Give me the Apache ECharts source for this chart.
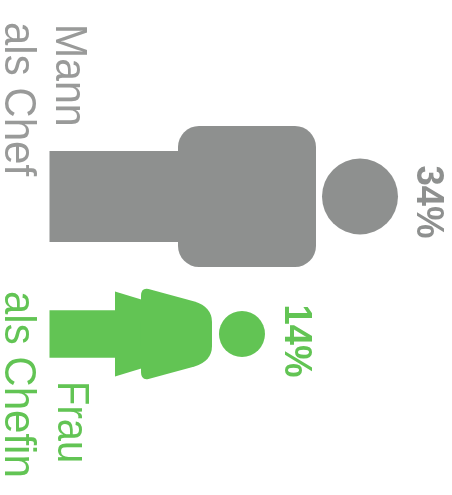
<!DOCTYPE html>
<html><head><meta charset="utf-8">
<style>html,body{margin:0;padding:0;background:#fff}#c{width:452px;height:495px}</style>
<script src="https://cdn.jsdelivr.net/npm/echarts@6/dist/echarts.min.js"></script></head>
<body><div id="c"></div>
<script>
const categories = ['Mann als Chef', 'Frau als Chefin'];
const shares = [34, 14];
const labelLineA = ['Mann', 'Frau'];
const labelLineB = ['als Chef', 'als Chefin'];

const GREY = '#8e908f', GREEN = '#62c454';
const FONT = '"Liberation Sans", Arial, sans-serif';
const colors = [GREY, GREEN];
const textColors = ['#999a99', GREEN];
const labelPos = [
  { a: [68.5, 24], b: [17, 22] },
  { a: [70, 381], b: [17, 291] }
];

function rotText(text, x, y, color, size, weight, sy) {
  return { type: 'text', x, y, rotation: -Math.PI / 2, scaleY: sy,
    style: { text, x: 0, y: 0, fill: color, font: weight + ' ' + size + 'px ' + FONT,
      textAlign: 'left', textVerticalAlign: 'middle' } };
}
function manIcon(base, tip, cy, c) {
  const k = (tip - base) / 348.5, X = v => base + v * k, S = v => v * k;
  return [
    { type: 'rect', shape: { x: base, y: cy - S(45.5), width: S(130), height: S(91) }, style: { fill: c } },
    { type: 'rect', shape: { x: X(128.5), y: cy - S(70.5), width: S(138), height: S(141), r: S(21) }, style: { fill: c } },
    { type: 'circle', shape: { cx: X(310.5), cy: cy, r: S(38) }, style: { fill: c } }
  ];
}
function womanIcon(base, tip, cy, c) {
  const k = (tip - base) / 215.5, X = v => (base + v * k).toFixed(2), Y = v => (cy + v * k).toFixed(2);
  const p = (x, y) => X(x) + ' ' + Y(y);
  const body = 'M' + p(91.5, -38) + ' Q' + p(91.5, -46.5) + ' ' + p(99, -45) +
    ' L' + p(145, -32.5) + ' Q' + p(162.5, -27) + ' ' + p(162.5, -12) +
    ' L' + p(162.5, 12) + ' Q' + p(162.5, 27) + ' ' + p(145, 32.5) +
    ' L' + p(99, 45) + ' Q' + p(91.5, 46.5) + ' ' + p(91.5, 38) + ' Z';
  const rear = 'M' + p(65.5, -42.5) + ' L' + p(100, -32) + ' L' + p(100, 32) + ' L' + p(65.5, 42.5) + ' Z';
  return [
    { type: 'rect', shape: { x: base, y: cy - 23.7 * k, width: 70 * k, height: 47.4 * k }, style: { fill: c } },
    { type: 'path', shape: { pathData: rear }, style: { fill: c } },
    { type: 'path', shape: { pathData: body }, style: { fill: c } },
    { type: 'circle', shape: { cx: base + 192.5 * k, cy: cy, r: 23 * k }, style: { fill: c } }
  ];
}

function renderItem(params, api) {
  const i = params.dataIndex;
  const tip = api.coord([api.value(0), i]);
  const base = api.coord([X_MIN, i]);
  const cy = tip[1], c = colors[i];
  const icon = i === 0 ? manIcon(base[0], tip[0], cy, c) : womanIcon(base[0], tip[0], cy, c);
  const pct = api.value(0) + '%';
  const labelX = tip[0] + (i === 0 ? 29.5 : 31);
  const labelY = cy - (i === 0 ? 31 : 29.5);
  return { type: 'group', children: icon.concat([
    rotText(pct, labelX, labelY, i === 0 ? GREY : GREEN, 36.5, 'bold', 1.08),
    rotText(labelLineA[i], labelPos[i].a[0], labelPos[i].a[1], textColors[i], i === 0 ? 41 : 40, 'normal', i === 0 ? 1.1 : 1.12),
    rotText(labelLineB[i], labelPos[i].b[0], labelPos[i].b[1], textColors[i], 42, 'normal', 1.07)
  ]) };
}

const X_MIN = -18.4, X_MAX = 34;
const chart = echarts.init(document.getElementById('c'), null, { renderer: 'canvas' });
chart.setOption({
  animation: false,
  backgroundColor: '#fff',
  grid: { left: 49.5, width: 348.5, top: 127.75, height: 275 },
  xAxis: { type: 'value', min: X_MIN, max: X_MAX, show: false },
  yAxis: { type: 'category', data: categories, inverse: true, show: false },
  series: [{
    type: 'custom', clip: false, renderItem,
    encode: { x: 0, y: 1 },
    data: shares.map((v, i) => [v, i])
  }]
});
</script></body></html>
